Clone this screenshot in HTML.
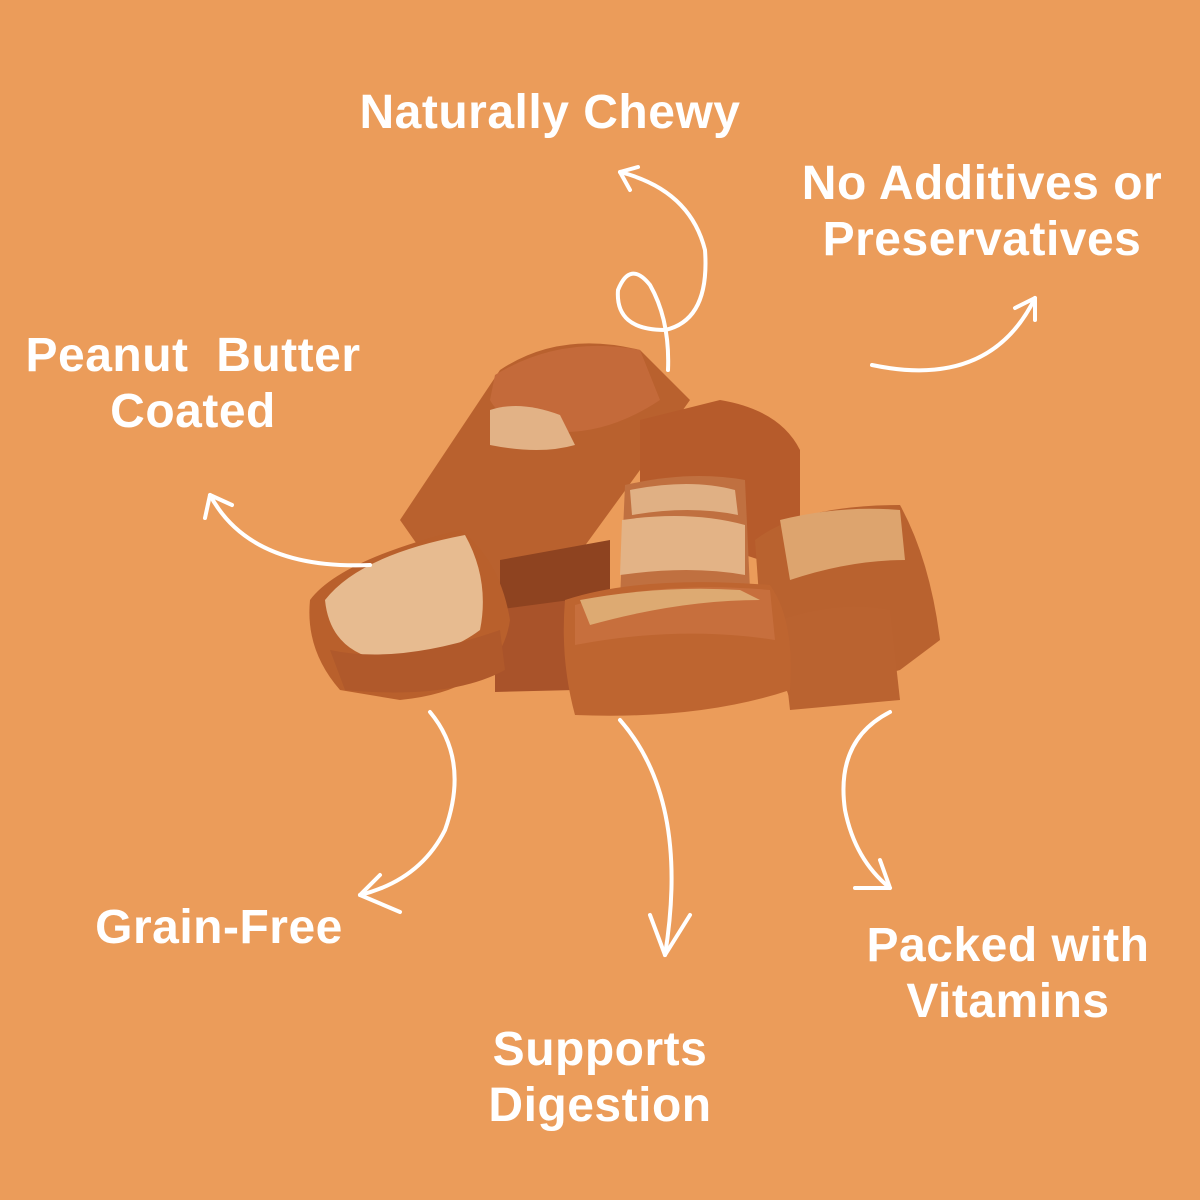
<!DOCTYPE html>
<html><head><style>
html,body{margin:0;padding:0}
body{width:1200px;height:1200px;background:#EB9C5A;overflow:hidden}
svg{display:block}
text{font-family:"Liberation Sans",sans-serif;font-weight:bold;font-size:48px;letter-spacing:0.5px;fill:#fff;text-anchor:middle}
</style></head><body>
<svg width="1200" height="1200" viewBox="0 0 1200 1200">
<rect width="1200" height="1200" fill="#EB9C5A"/>
<g>
<path d="M400,520 L500,370 Q560,330 640,350 L690,400 L640,470 L560,580 L470,620 Z" fill="#B9612E"/>
<path d="M495,375 Q560,335 640,350 L660,400 Q600,440 540,430 Q500,420 490,400 Z" fill="#C46A3A"/>
<path d="M490,410 Q520,400 560,415 L575,445 Q540,455 490,445 Z" fill="#E2B286"/>
<path d="M640,420 L720,400 Q780,410 800,450 L800,520 L760,560 L640,520 Z" fill="#B65B2B"/>
<path d="M625,485 Q690,470 745,480 L750,590 L620,600 Z" fill="#C07040"/>
<path d="M630,490 Q690,478 735,490 L738,515 Q690,505 632,515 Z" fill="#E0B084"/>
<path d="M622,520 Q690,510 745,525 L745,575 Q690,565 620,575 Z" fill="#E3B386"/>
<path d="M755,540 Q800,505 900,505 Q930,560 940,640 L900,670 L790,700 L760,610 Z" fill="#B9622F"/>
<path d="M780,520 Q840,505 900,510 L905,560 Q850,560 790,580 Z" fill="#DDA46E"/>
<path d="M780,620 Q840,600 890,610 L900,700 L790,710 Z" fill="#BA6330"/>
<path d="M500,560 L610,540 L610,690 L500,690 Z" fill="#8E4320"/>
<path d="M495,610 L570,600 L575,690 L495,692 Z" fill="#A9532A"/>
<path d="M565,600 Q640,575 770,585 Q795,620 790,690 Q700,720 575,715 Q560,660 565,600 Z" fill="#BE6530"/>
<path d="M575,605 Q660,580 770,590 L775,640 Q680,625 575,645 Z" fill="#C76F3D"/>
<path d="M580,600 Q660,585 740,590 L760,600 Q680,600 590,625 Z" fill="#DDAA72"/>
<path d="M310,600 Q340,560 460,530 Q500,560 510,620 Q500,690 400,700 L340,690 Q305,650 310,600 Z" fill="#B9602C"/>
<path d="M325,600 Q360,555 465,535 Q490,580 480,630 Q440,660 380,660 Q330,650 325,600 Z" fill="#E7BB90"/>
<path d="M330,650 Q400,665 500,630 L505,670 Q450,700 345,690 Z" fill="#B0592B"/>
</g>
<g fill="none" stroke="#fff" stroke-width="4" stroke-linecap="round" stroke-linejoin="round">
<path d="M668,370 Q670,320 650,285 Q630,260 618,290 Q615,330 665,330 Q710,320 705,250 Q690,190 620,172"/>
<path d="M620,172 L638,167 M620,172 L630,190"/>
<path d="M872,365 Q990,390 1035,298"/>
<path d="M1035,298 L1015,308 M1035,298 L1035,320"/>
<path d="M370,565 Q250,570 210,495"/>
<path d="M210,495 L205,518 M210,495 L232,505"/>
<path d="M430,712 Q470,760 445,830 Q420,880 360,895"/>
<path d="M360,895 L380,875 M360,895 L400,912"/>
<path d="M620,720 Q690,800 665,955"/>
<path d="M665,955 L650,915 M665,955 L690,915"/>
<path d="M890,712 Q835,740 845,810 Q855,860 890,888"/>
<path d="M890,888 L855,888 M890,888 L880,860"/>
</g>
<text x="550" y="128">Naturally Chewy</text>
<text x="982" y="199">No Additives or</text>
<text x="982" y="255">Preservatives</text>
<text x="193" y="371" xml:space="preserve">Peanut  Butter</text>
<text x="193" y="427">Coated</text>
<text x="219" y="943">Grain-Free</text>
<text x="600" y="1065">Supports</text>
<text x="600" y="1121">Digestion</text>
<text x="1008" y="961">Packed with</text>
<text x="1008" y="1017">Vitamins</text>
</svg>
</body></html>
